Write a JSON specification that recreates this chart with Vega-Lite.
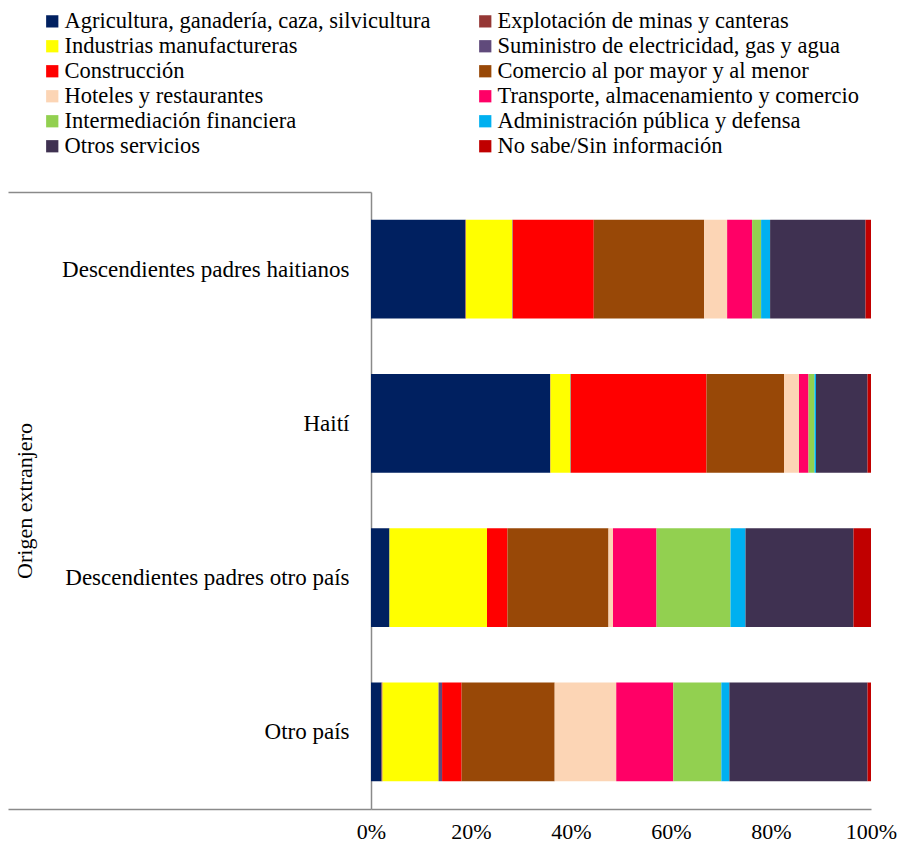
{
  "$schema": "https://vega.github.io/schema/vega-lite/v6.json",
  "width": 500,
  "height": 617,
  "autosize": {"type": "none"},
  "padding": {"left": 371, "top": 192, "right": 28, "bottom": 33},
  "background": "white",
  "config": {
    "view": {"stroke": null},
    "font": "Liberation Serif",
    "axis": {"labelFont": "Liberation Serif", "titleFont": "Liberation Serif", "labelColor": "#000000", "titleColor": "#000000", "titleFontWeight": "normal"},
    "legend": {"labelFont": "Liberation Serif"}
  },
  "data": {
    "values": [
      {"origen": "Descendientes padres haitianos", "codigo": 1, "sector": "Agricultura, ganadería, caza, silvicultura", "valor": 18.9},
      {"origen": "Descendientes padres haitianos", "codigo": 2, "sector": "Explotación de minas y canteras", "valor": 0.1},
      {"origen": "Descendientes padres haitianos", "codigo": 3, "sector": "Industrias manufactureras", "valor": 9.3},
      {"origen": "Descendientes padres haitianos", "codigo": 4, "sector": "Suministro de electricidad, gas y agua", "valor": 0.1},
      {"origen": "Descendientes padres haitianos", "codigo": 5, "sector": "Construcción", "valor": 16.2},
      {"origen": "Descendientes padres haitianos", "codigo": 6, "sector": "Comercio al por mayor y al menor", "valor": 22.1},
      {"origen": "Descendientes padres haitianos", "codigo": 7, "sector": "Hoteles y restaurantes", "valor": 4.6},
      {"origen": "Descendientes padres haitianos", "codigo": 8, "sector": "Transporte, almacenamiento y comercio", "valor": 5.0},
      {"origen": "Descendientes padres haitianos", "codigo": 9, "sector": "Intermediación  financiera", "valor": 1.8},
      {"origen": "Descendientes padres haitianos", "codigo": 10, "sector": "Administración pública y defensa", "valor": 1.8},
      {"origen": "Descendientes padres haitianos", "codigo": 11, "sector": "Otros servicios", "valor": 19.1},
      {"origen": "Descendientes padres haitianos", "codigo": 12, "sector": "No sabe/Sin información", "valor": 1.1},

      {"origen": "Haití", "codigo": 1, "sector": "Agricultura, ganadería, caza, silvicultura", "valor": 35.8},
      {"origen": "Haití", "codigo": 2, "sector": "Explotación de minas y canteras", "valor": 0.1},
      {"origen": "Haití", "codigo": 3, "sector": "Industrias manufactureras", "valor": 4.0},
      {"origen": "Haití", "codigo": 4, "sector": "Suministro de electricidad, gas y agua", "valor": 0.1},
      {"origen": "Haití", "codigo": 5, "sector": "Construcción", "valor": 27.1},
      {"origen": "Haití", "codigo": 6, "sector": "Comercio al por mayor y al menor", "valor": 15.5},
      {"origen": "Haití", "codigo": 7, "sector": "Hoteles y restaurantes", "valor": 3.0},
      {"origen": "Haití", "codigo": 8, "sector": "Transporte, almacenamiento y comercio", "valor": 1.9},
      {"origen": "Haití", "codigo": 9, "sector": "Intermediación  financiera", "valor": 1.2},
      {"origen": "Haití", "codigo": 10, "sector": "Administración pública y defensa", "valor": 0.3},
      {"origen": "Haití", "codigo": 11, "sector": "Otros servicios", "valor": 10.3},
      {"origen": "Haití", "codigo": 12, "sector": "No sabe/Sin información", "valor": 0.7},

      {"origen": "Descendientes padres otro país", "codigo": 1, "sector": "Agricultura, ganadería, caza, silvicultura", "valor": 3.7},
      {"origen": "Descendientes padres otro país", "codigo": 2, "sector": "Explotación de minas y canteras", "valor": 0.0},
      {"origen": "Descendientes padres otro país", "codigo": 3, "sector": "Industrias manufactureras", "valor": 19.5},
      {"origen": "Descendientes padres otro país", "codigo": 4, "sector": "Suministro de electricidad, gas y agua", "valor": 0.0},
      {"origen": "Descendientes padres otro país", "codigo": 5, "sector": "Construcción", "valor": 4.1},
      {"origen": "Descendientes padres otro país", "codigo": 6, "sector": "Comercio al por mayor y al menor", "valor": 20.2},
      {"origen": "Descendientes padres otro país", "codigo": 7, "sector": "Hoteles y restaurantes", "valor": 0.9},
      {"origen": "Descendientes padres otro país", "codigo": 8, "sector": "Transporte, almacenamiento y comercio", "valor": 8.7},
      {"origen": "Descendientes padres otro país", "codigo": 9, "sector": "Intermediación  financiera", "valor": 14.8},
      {"origen": "Descendientes padres otro país", "codigo": 10, "sector": "Administración pública y defensa", "valor": 3.0},
      {"origen": "Descendientes padres otro país", "codigo": 11, "sector": "Otros servicios", "valor": 21.6},
      {"origen": "Descendientes padres otro país", "codigo": 12, "sector": "No sabe/Sin información", "valor": 3.5},

      {"origen": "Otro país", "codigo": 1, "sector": "Agricultura, ganadería, caza, silvicultura", "valor": 2.1},
      {"origen": "Otro país", "codigo": 2, "sector": "Explotación de minas y canteras", "valor": 0.2},
      {"origen": "Otro país", "codigo": 3, "sector": "Industrias manufactureras", "valor": 11.2},
      {"origen": "Otro país", "codigo": 4, "sector": "Suministro de electricidad, gas y agua", "valor": 0.7},
      {"origen": "Otro país", "codigo": 5, "sector": "Construcción", "valor": 3.9},
      {"origen": "Otro país", "codigo": 6, "sector": "Comercio al por mayor y al menor", "valor": 18.6},
      {"origen": "Otro país", "codigo": 7, "sector": "Hoteles y restaurantes", "valor": 12.3},
      {"origen": "Otro país", "codigo": 8, "sector": "Transporte, almacenamiento y comercio", "valor": 11.4},
      {"origen": "Otro país", "codigo": 9, "sector": "Intermediación  financiera", "valor": 9.6},
      {"origen": "Otro país", "codigo": 10, "sector": "Administración pública y defensa", "valor": 1.6},
      {"origen": "Otro país", "codigo": 11, "sector": "Otros servicios", "valor": 27.6},
      {"origen": "Otro país", "codigo": 12, "sector": "No sabe/Sin información", "valor": 0.7}
    ]
  },
  "mark": {"type": "bar", "height": {"band": 0.64}},
  "encoding": {
    "y": {
      "field": "origen",
      "type": "nominal",
      "sort": ["Descendientes padres haitianos", "Haití", "Descendientes padres otro país", "Otro país"],
      "scale": {"paddingInner": 0, "paddingOuter": 0},
      "axis": {
        "title": "Origen extranjero",
        "titleFontSize": 22,
        "titleFont": "Liberation Serif",
        "titlePadding": 135,
        "labelFont": "Liberation Serif",
        "labelFontSize": 23,
        "labelLimit": 400,
        "labelPadding": -341,
        "tickBand": "extent",
        "tickSize": 363,
        "tickWidth": 1.5,
        "tickColor": "#8a8a8a",
        "tickOpacity": {"condition": {"test": "datum.index === 1 || datum.index === -1", "value": 1}, "value": 0},
        "domainColor": "#8a8a8a",
        "domainWidth": 1.5,
        "grid": false
      }
    },
    "x": {
      "field": "valor",
      "type": "quantitative",
      "stack": "normalize",
      "scale": {"domain": [0, 1], "nice": false},
      "axis": {
        "title": null,
        "format": ".0%",
        "values": [0, 0.2, 0.4, 0.6, 0.8, 1],
        "labelFont": "Liberation Serif",
        "labelFontSize": 22,
        "labelPadding": 12,
        "ticks": false,
        "grid": false,
        "domainColor": "#8a8a8a",
        "domainWidth": 1.5,
        "labelFlush": false
      }
    },
    "order": {"field": "codigo", "type": "quantitative", "sort": "ascending"},
    "color": {
      "field": "sector",
      "type": "nominal",
      "sort": ["Agricultura, ganadería, caza, silvicultura", "Explotación de minas y canteras", "Industrias manufactureras", "Suministro de electricidad, gas y agua", "Construcción", "Comercio al por mayor y al menor", "Hoteles y restaurantes", "Transporte, almacenamiento y comercio", "Intermediación  financiera", "Administración pública y defensa", "Otros servicios", "No sabe/Sin información"],
      "scale": {
        "domain": ["Agricultura, ganadería, caza, silvicultura", "Explotación de minas y canteras", "Industrias manufactureras", "Suministro de electricidad, gas y agua", "Construcción", "Comercio al por mayor y al menor", "Hoteles y restaurantes", "Transporte, almacenamiento y comercio", "Intermediación  financiera", "Administración pública y defensa", "Otros servicios", "No sabe/Sin información"],
        "range": ["#002060", "#953735", "#FFFF00", "#604A7B", "#FF0000", "#984807", "#FCD5B5", "#FF0066", "#92D050", "#00B0F0", "#3F3151", "#C00000"]
      },
      "legend": {
        "title": null,
        "orient": "none",
        "legendX": -330,
        "legendY": -182,
        "columns": 2,
        "direction": "horizontal",
        "symbolType": "square",
        "symbolSize": 150,
        "symbolStrokeWidth": 0,
        "labelFont": "Liberation Serif",
        "labelFontSize": 22.5,
        "labelColor": "#000000",
        "labelLimit": 600,
        "labelOffset": 1,
        "rowPadding": 2,
        "columnPadding": 43,
        "padding": 0
      }
    }
  }
}
